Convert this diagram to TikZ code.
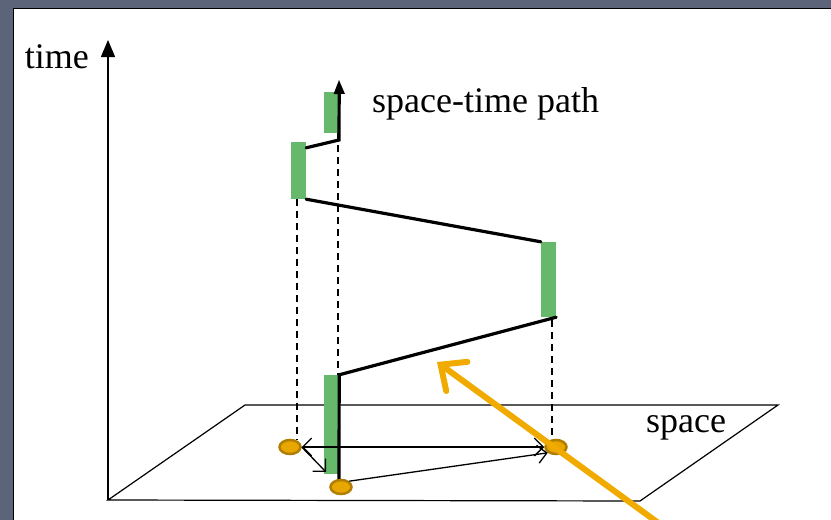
\documentclass[tikz,border=0pt]{standalone}
\usepackage{fontspec}
\setmainfont{Liberation Serif}
\usepackage{tikz}
\usetikzlibrary{arrows.meta, positioning, shapes.geometric}

\definecolor{slate}{HTML}{5B6479}
\definecolor{bargreen}{HTML}{66B86A}
\definecolor{dotfill}{HTML}{E8A600}
\definecolor{dotedge}{HTML}{B07E00}
\definecolor{pointer}{HTML}{F0AA00}

\tikzset{
  bar/.style={fill=bargreen, inner sep=0pt, minimum width=15pt},
  loc/.style={ellipse, fill=dotfill, draw=dotedge, line width=2.5pt, minimum width=21pt, minimum height=14pt, inner sep=0pt},
  axis/.style={line width=1.5pt, -{Triangle[length=17pt,width=14pt]}},
  plane/.style={line width=1.2pt},
  route/.style={line width=3.2pt, line cap=round},
  move/.style={line width=1.3pt, {Straight Barb[length=9pt,width=18pt]}-{Straight Barb[length=9pt,width=18pt]}},
  proj/.style={line width=1.2pt, dash pattern=on 7pt off 5pt},
  lbl/.style={font=\fontsize{36}{40}\selectfont, inner sep=0pt}
}

\begin{document}
\begin{tikzpicture}[x=1pt, y=-1pt]
\useasboundingbox (0,0) rectangle (831,520);
\fill[slate] (0,0) rectangle (831,520);
\fill[white] (13,8) rectangle (831,520);
\draw[line width=1pt] (13,520) -- (13,8) -- (831,8);

% plane and time axis
\coordinate (o) at (108,500);
\coordinate (tt) at (108,40);
\coordinate (pa) at (640,501);
\coordinate (pb) at (778,405);
\coordinate (pc) at (245,405);
\draw[plane] (o) -- (pa) -- (pb) -- (pc) -- cycle;
\draw[axis] (o) -- (tt);
\node[lbl, anchor=east] (time) at (89,57) {time};
\node[lbl] (space) at (686,428) {space};

% projections
\draw[proj] (297,199) -- (297,440);
\draw[proj] (338,133) -- (338,375);
\draw[proj] (552,320) -- (552,445);

% stays
\node[bar, minimum height=41pt] (b1) at (331.5,112.5) {};
\node[bar, minimum height=57pt] (b2) at (298.5,170.5) {};
\node[bar, minimum height=75pt] (b3) at (548.5,279.5) {};
\node[bar, minimum height=99pt] (b4) at (331.5,424.5) {};

% path
\coordinate (top) at (339,80);
\draw[route] (339,482) -- (b4.north east) -- (b3.south east);
\draw[route] (b3.north west) -- (b2.south east);
\draw[route] ([yshift=-6pt]b2.north east) -- (339,140) -- (b1.north east);
\draw[line width=1.5pt, -{Triangle[length=14pt,width=11pt]}] (b1.north east) -- (top);
\node[lbl, anchor=west] (stp) at (372,104) {space-time path};

% locations
\node[loc] (l1) at (290,447) {};
\node[loc] (l2) at (341,487) {};
\node[loc] (l3) at (556,447) {};
\draw[move] (l1.east) -- (l3.west);
\draw[move, {}-{Straight Barb[length=9pt,width=18pt]}] (l1.east) -- (326,472);
\draw[move, {}-{Straight Barb[length=9pt,width=18pt]}] (l2.north east) -- (l3.south west);

% pointer
\coordinate (pt) at (437,362);
\draw[line width=6pt, line cap=round, pointer, -{Straight Barb[length=20pt,width=36pt,line cap=round]}] (668,530) -- (pt);
\end{tikzpicture}
\end{document}
